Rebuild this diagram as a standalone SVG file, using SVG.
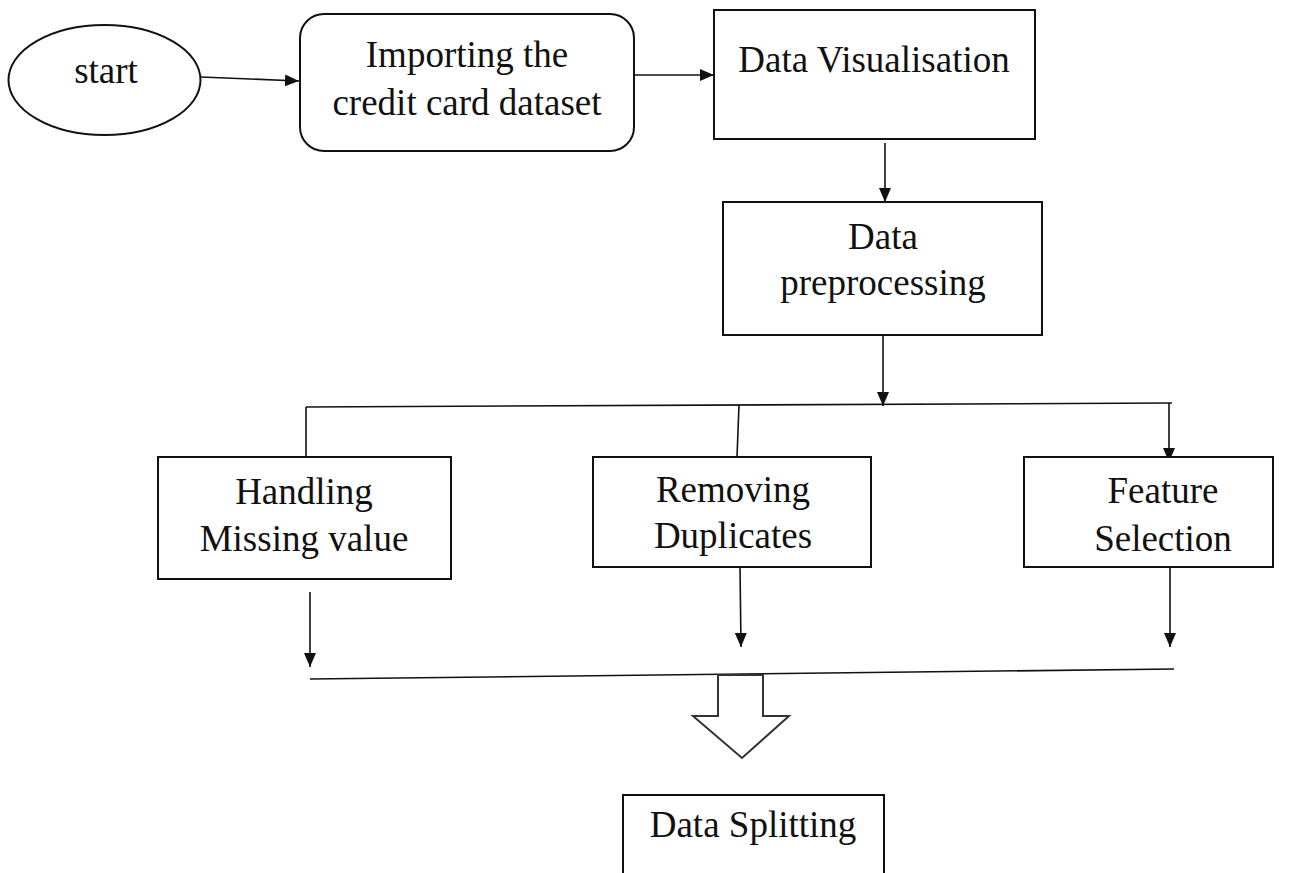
<svg xmlns="http://www.w3.org/2000/svg" width="1303" height="873" viewBox="0 0 1303 873">
  <style>
    .box { fill: #fff; stroke: #111; stroke-width: 2; }
    .lbl { font-family: "Liberation Serif", "Times New Roman", serif; font-size: 37px; fill: #111; text-anchor: middle; }
    .edge { fill: none; stroke: #111; stroke-width: 1.6; }
    .arr { marker-end: url(#head); }
  </style>
  <defs>
    <marker id="head" viewBox="0 0 14 12" markerWidth="14" markerHeight="12" refX="14" refY="6" orient="auto" markerUnits="userSpaceOnUse">
      <path d="M0,0 L14,6 L0,12 z" fill="#111"/>
    </marker>
  </defs>
  <rect width="1303" height="873" fill="#fff"/>

  <g id="connectors">
    <path class="edge arr" d="M201,77 L299,81"/>
    <path class="edge arr" d="M634,75 L714,75"/>
    <path class="edge arr" d="M885,143 L885,202"/>
    <path class="edge arr" d="M883,335 L883,406"/>
    <path class="edge" d="M306,407 L1172,403"/>
    <path class="edge" d="M306,407 L306,457"/>
    <path class="edge" d="M739,405 L737,457"/>
    <path class="edge arr" d="M1169,403 L1169,462"/>
    <path class="edge arr" d="M310,592 L310,667"/>
    <path class="edge arr" d="M740,567 L741,647"/>
    <path class="edge arr" d="M1170,567 L1170,647"/>
    <path class="edge" d="M310,679 L1174,669"/>
    <polygon id="merge-arrow" points="718,675 763,675 763,716 789,716 742,758 693,716 718,716" fill="#fff" stroke="#333" stroke-width="2"/>
  </g>

  <g id="start">
    <ellipse class="box" cx="104.5" cy="80" rx="96" ry="55"/>
    <text class="lbl" x="106" y="83">start</text>
  </g>

  <g id="import">
    <rect class="box" x="300" y="14" width="334" height="137" rx="24"/>
    <text class="lbl" x="467" y="67">Importing the</text>
    <text class="lbl" x="467" y="115">credit card dataset</text>
  </g>

  <g id="visualisation">
    <rect class="box" x="714" y="10" width="321" height="129"/>
    <text class="lbl" x="874" y="72">Data Visualisation</text>
  </g>

  <g id="preprocessing">
    <rect class="box" x="723" y="202" width="319" height="133"/>
    <text class="lbl" x="883" y="249">Data</text>
    <text class="lbl" x="883" y="295">preprocessing</text>
  </g>

  <g id="missing">
    <rect class="box" x="158" y="457" width="293" height="122"/>
    <text class="lbl" x="304" y="504">Handling</text>
    <text class="lbl" x="304" y="551">Missing value</text>
  </g>

  <g id="duplicates">
    <rect class="box" x="593" y="457" width="278" height="110"/>
    <text class="lbl" x="733" y="502">Removing</text>
    <text class="lbl" x="733" y="548">Duplicates</text>
  </g>

  <g id="features">
    <rect class="box" x="1024" y="457" width="249" height="110"/>
    <text class="lbl" x="1163" y="503">Feature</text>
    <text class="lbl" x="1163" y="551">Selection</text>
  </g>

  <g id="splitting">
    <rect class="box" x="623" y="795" width="261" height="100"/>
    <text class="lbl" x="753" y="837">Data Splitting</text>
  </g>
</svg>
